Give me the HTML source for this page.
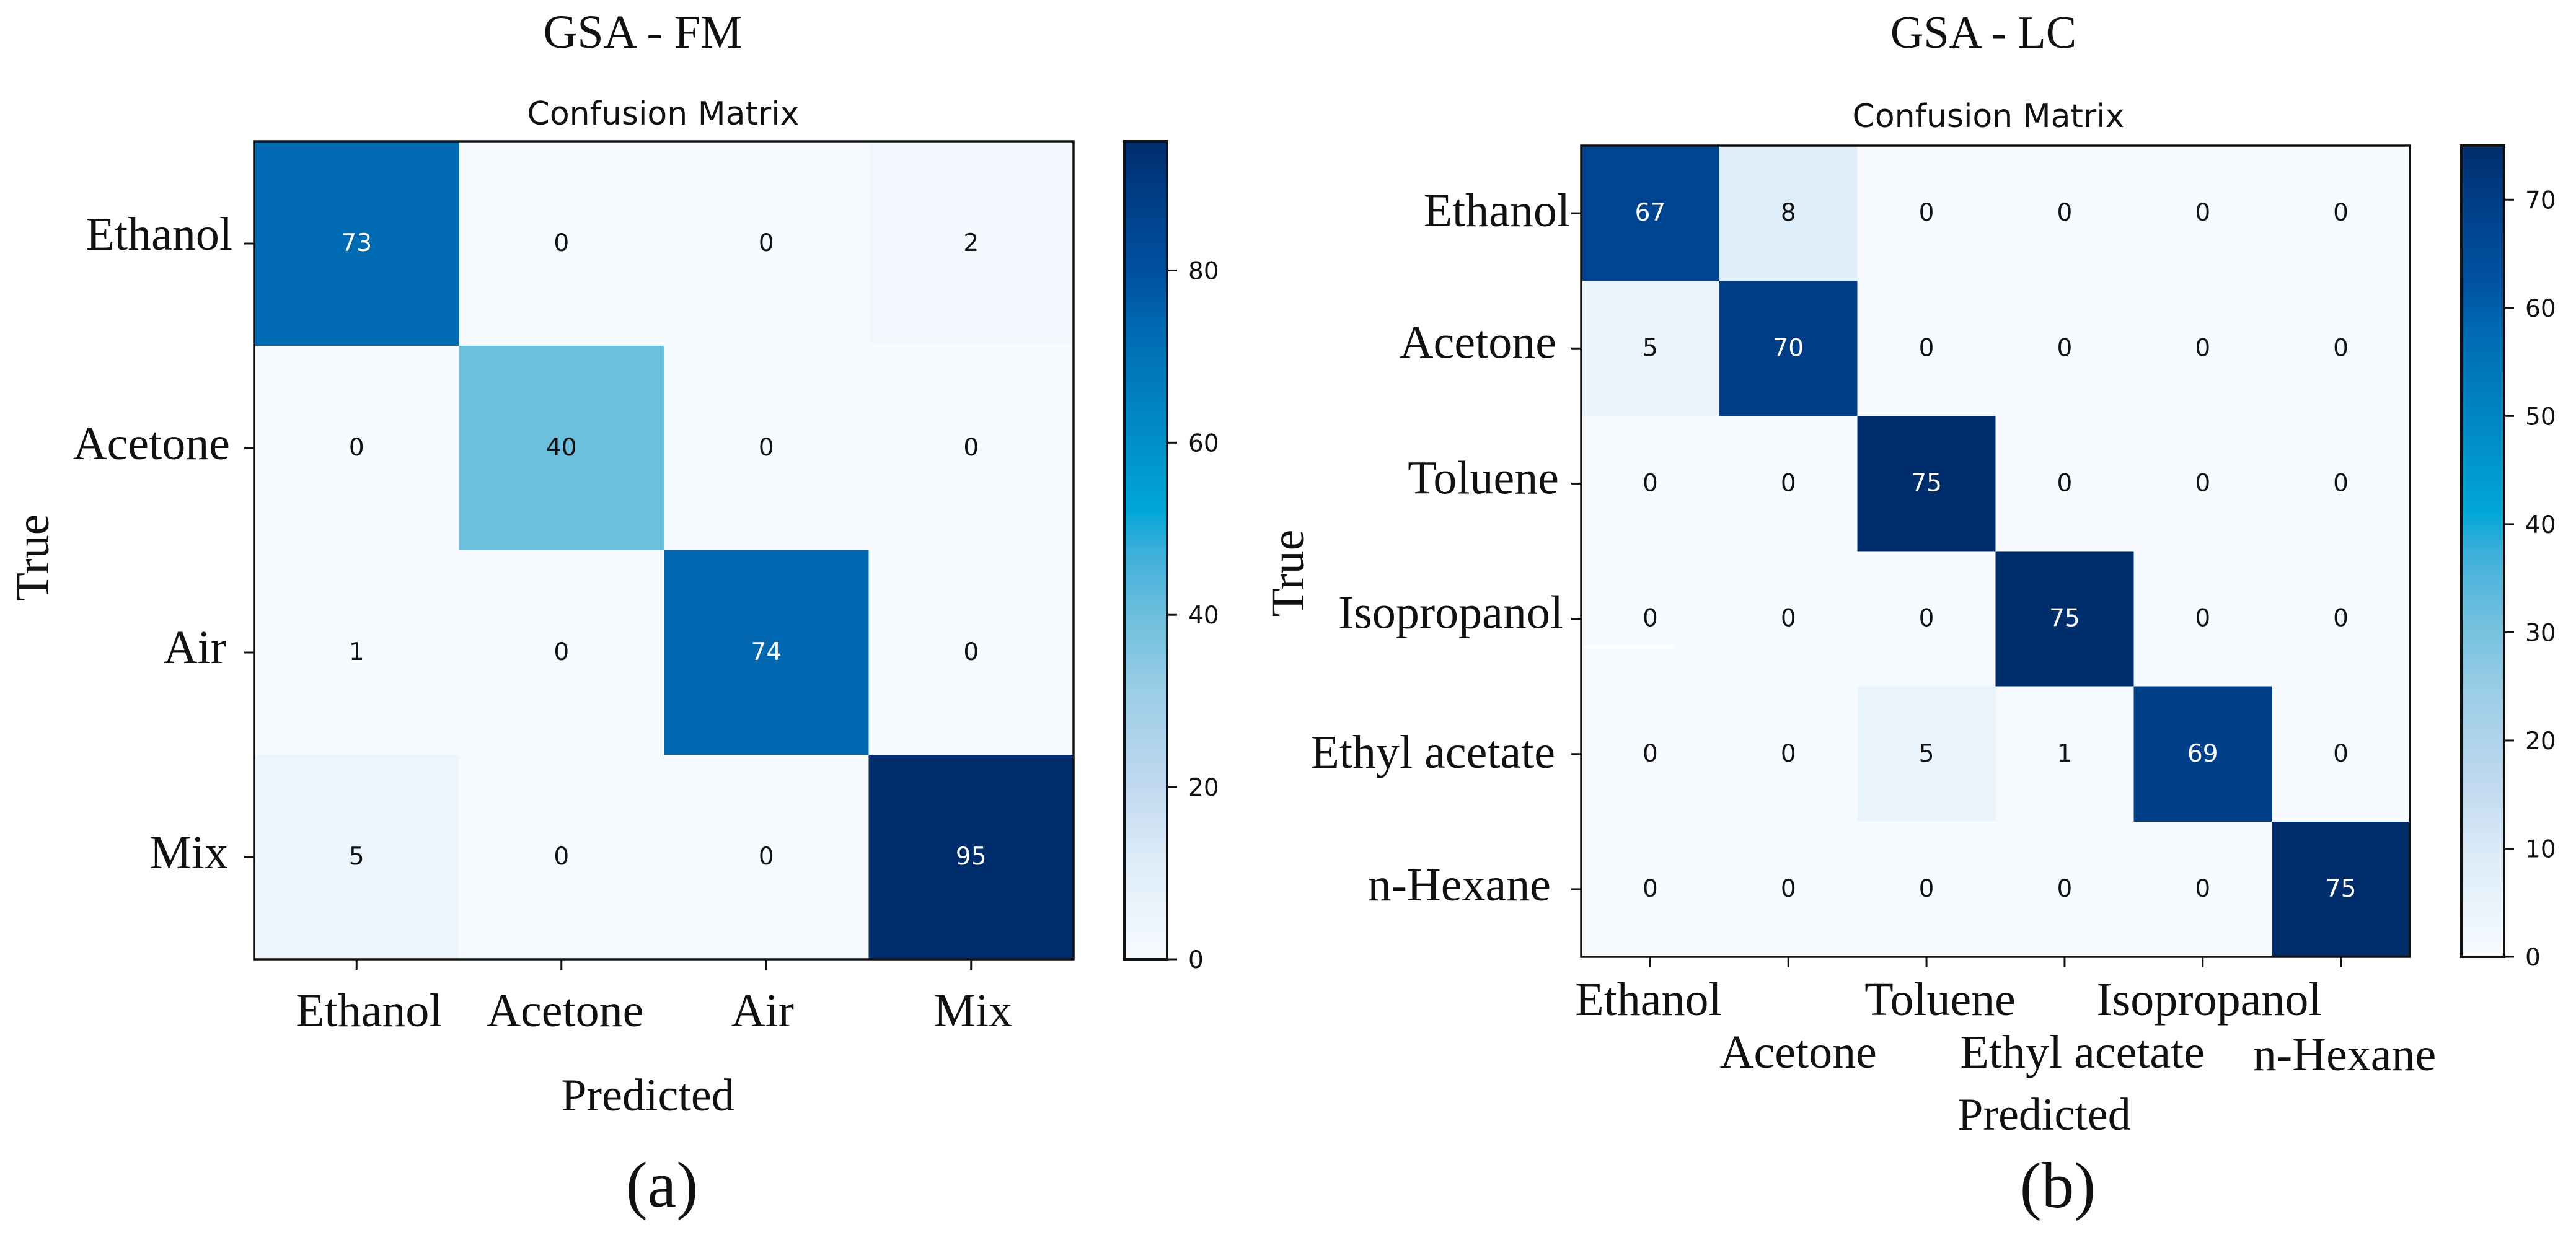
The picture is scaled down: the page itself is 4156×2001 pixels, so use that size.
<!DOCTYPE html>
<html lang="en">
<head>
<meta charset="utf-8">
<title>GSA confusion matrices</title>
<style>
html,body{margin:0;padding:0;background:#fff;width:4156px;height:2001px;overflow:hidden}
svg{display:block}
.serif{font-family:"Liberation Serif",serif;fill:#111}
.sans{font-family:"DejaVu Sans",sans-serif;fill:#111}
</style>
</head>
<body>
<svg id="figure" xmlns="http://www.w3.org/2000/svg" width="4156" height="2001" viewBox="0 0 4156 2001">
  <rect x="0" y="0" width="4156" height="2001" fill="#fff"/>
  <text class="serif" x="1037" y="77" font-size="76" text-anchor="middle">GSA - FM</text>
  <text class="serif" x="3200" y="77" font-size="74" text-anchor="middle">GSA - LC</text>
  <text class="serif" x="1068" y="1947" font-size="105" text-anchor="middle">(a)</text>
  <text class="serif" x="3320" y="1948" font-size="105" text-anchor="middle">(b)</text>
</svg>
<script>
// ---- Panel (a) data ----
const categoriesA = ['Ethanol', 'Acetone', 'Air', 'Mix'];
const valuesA = [
  [73, 0, 0, 2],
  [0, 40, 0, 0],
  [1, 0, 74, 0],
  [5, 0, 0, 95]
];
const colorbarTicksA = [0, 20, 40, 60, 80];

// ---- Panel (b) data ----
const categoriesB = ['Ethanol', 'Acetone', 'Toluene', 'Isopropanol', 'Ethyl acetate', 'n-Hexane'];
const valuesB = [
  [67, 8, 0, 0, 0, 0],
  [5, 70, 0, 0, 0, 0],
  [0, 0, 75, 0, 0, 0],
  [0, 0, 0, 75, 0, 0],
  [0, 0, 5, 1, 69, 0],
  [0, 0, 0, 0, 0, 75]
];
const colorbarTicksB = [0, 10, 20, 30, 40, 50, 60, 70];

// ---- Colormap (fraction of max, colour) ----
const colormapStops = [
  [0, '#f7fbff'], [0.125, '#dcecf8'], [0.21, '#c1d9ef'], [0.33, '#9acde6'],
  [0.42, '#6dbfdd'], [0.5, '#3bafd9'], [0.55, '#00a6d6'], [0.63, '#0090c8'],
  [0.77, '#006ab2'], [0.84, '#00509f'], [0.92, '#00408a'], [1, '#002d6c']
];

// ---- Layout of each panel (hand-placed labels follow the reference) ----
const layoutA = {
  id: 'a', left: 410, right: 1732, top: 228, bottom: 1548,
  barLeft: 1814, barRight: 1883,
  xLabelShift: [20, 6, -6, 3], xLabelDrop: [108, 108, 108, 108],
  yLabelGap: [35, 39, 45, 42], yLabelDrop: [10, 18, 17, 18],
  labelSize: 76,
  xTitleX: 1045, xTitleY: 1792, yTitleX: 78, yTitleY: 900,
  matrixTitleX: 1070, matrixTitleY: 201
};
const layoutB = {
  id: 'b', left: 2551, right: 3888, top: 235, bottom: 1544,
  barLeft: 3971, barRight: 4040,
  xLabelShift: [-3, 16, 22, 233, -194, 6], xLabelDrop: [94, 179, 94, 94, 179, 183],
  yLabelGap: [18, 40, 36, 29, 42, 49], yLabelDrop: [21, 15, 16, 15, 22, 18],
  labelSize: 76,
  xTitleX: 3298, xTitleY: 1823, yTitleX: 2103, yTitleY: 925,
  matrixTitleX: 3208, matrixTitleY: 205
};

const svgNS = 'http://www.w3.org/2000/svg';
const root = document.getElementById('figure');

function shape(tag, attrs, parent) {
  const node = document.createElementNS(svgNS, tag);
  for (const key in attrs) node.setAttribute(key, attrs[key]);
  parent.appendChild(node);
  return node;
}

function hexToRgb(h) {
  return [1, 3, 5].map(function (i) { return parseInt(h.substr(i, 2), 16); });
}

function colorAt(t) {
  const f = Math.max(0, Math.min(1, t));
  for (let i = 1; i < colormapStops.length; i++) {
    const a = colormapStops[i - 1], b = colormapStops[i];
    if (f <= b[0]) {
      const k = (f - a[0]) / (b[0] - a[0]);
      const ca = hexToRgb(a[1]), cb = hexToRgb(b[1]);
      const mix = ca.map(function (c, j) { return Math.round(c + (cb[j] - c) * k); });
      return 'rgb(' + mix.join(',') + ')';
    }
  }
  return colormapStops[colormapStops.length - 1][1];
}

function drawPanel(categories, values, barTicks, L) {
  const n = categories.length;
  const maxValue = Math.max.apply(null, values.map(function (r) { return Math.max.apply(null, r); }));
  const colX = function (i) { return L.left + (L.right - L.left) * i / n; };
  const rowY = function (i) { return L.top + (L.bottom - L.top) * i / n; };
  const barY = function (v) { return L.bottom - (L.bottom - L.top) * v / maxValue; };

  const g = shape('g', {}, root);
  
  

  const title = shape('text', { x: L.matrixTitleX, y: L.matrixTitleY, 'font-size': 52, 'text-anchor': 'middle', class: 'sans' }, g);
  title.textContent = 'Confusion Matrix';
  
  

  // heatmap cells and their counts
  values.forEach(function (row, r) {
    row.forEach(function (v, c) {
      const cell = shape('rect', {
        x: colX(c), y: rowY(r),
        width: colX(c + 1) - colX(c), height: rowY(r + 1) - rowY(r),
        fill: colorAt(v / maxValue), 'shape-rendering': 'crispEdges'
      }, g);
      
      

      const count = shape('text', {
        x: (colX(c) + colX(c + 1)) / 2, y: (rowY(r) + rowY(r + 1)) / 2 + 12,
        'font-size': 39, 'text-anchor': 'middle', class: 'sans'
      }, g);
      count.style.fill = v > maxValue / 2 ? '#fff' : '#111';
      count.textContent = String(v);
      
      
    });
  });

  // glitches of the white retouching visible in panel (b)
  if (L.id === 'b') {
    const glitch = shape('rect', { x: 2546, y: 1041, width: 154, height: 5, fill: '#fff', opacity: 0.8 }, g);
    
    
  }

  // frame
  const frame = shape('rect', {
    x: L.left, y: L.top, width: L.right - L.left, height: L.bottom - L.top,
    fill: 'none', stroke: '#111', 'stroke-width': 3.5
  }, g);
  
  

  // category ticks and labels
  categories.forEach(function (name, i) {
    const cx = (colX(i) + colX(i + 1)) / 2;
    const cy = (rowY(i) + rowY(i + 1)) / 2;

    const xTick = shape('line', { x1: cx, x2: cx, y1: L.bottom, y2: L.bottom + 17, stroke: '#111', 'stroke-width': 3 }, g);
    
    

    const yTick = shape('line', { x1: L.left - 16, x2: L.left, y1: cy, y2: cy, stroke: '#111', 'stroke-width': 3 }, g);
    
    

    const xLabel = shape('text', {
      x: cx + L.xLabelShift[i], y: L.bottom + L.xLabelDrop[i],
      'font-size': L.labelSize, 'text-anchor': 'middle', class: 'serif'
    }, g);
    xLabel.textContent = name;
    
    

    const yLabel = shape('text', {
      x: L.left - L.yLabelGap[i], y: cy + L.yLabelDrop[i],
      'font-size': L.labelSize, 'text-anchor': 'end', class: 'serif'
    }, g);
    yLabel.textContent = name;
    
    
  });

  // axis titles
  const xTitle = shape('text', { x: L.xTitleX, y: L.xTitleY, 'font-size': 74, 'text-anchor': 'middle', class: 'serif' }, g);
  xTitle.textContent = 'Predicted';
  
  

  const yTitle = shape('text', {
    x: 0, y: 0, 'font-size': 76, 'text-anchor': 'middle', class: 'serif',
    transform: 'translate(' + L.yTitleX + ' ' + L.yTitleY + ') rotate(-90)'
  }, g);
  yTitle.textContent = 'True';
  
  

  // colorbar
  const gradId = 'cmap-' + L.id;
  const defs = shape('defs', {}, g);
  const grad = shape('linearGradient', { id: gradId, x1: 0, y1: 1, x2: 0, y2: 0 }, defs);
  colormapStops.forEach(function (s) {
    shape('stop', { offset: s[0], 'stop-color': s[1] }, grad);
  });

  const bar = shape('rect', {
    x: L.barLeft, y: L.top, width: L.barRight - L.barLeft, height: L.bottom - L.top,
    fill: 'url(#' + gradId + ')', stroke: '#111', 'stroke-width': 4
  }, g);
  
  

  barTicks.forEach(function (v) {
    const y = barY(v);
    const tick = shape('line', { x1: L.barRight, x2: L.barRight + 16, y1: y, y2: y, stroke: '#111', 'stroke-width': 3 }, g);
    
    

    const label = shape('text', { x: L.barRight + 34, y: y + 14, 'font-size': 39, class: 'sans' }, g);
    label.textContent = String(v);
    
    
  });
}

drawPanel(categoriesA, valuesA, colorbarTicksA, layoutA);
drawPanel(categoriesB, valuesB, colorbarTicksB, layoutB);
</script>
</body>
</html>
